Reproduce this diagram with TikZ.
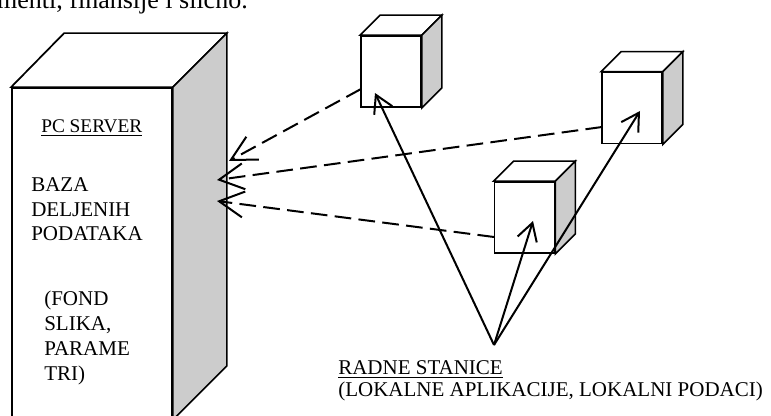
\documentclass[tikz,border=0pt]{standalone}
\usepackage{fontspec}
\setmainfont{Liberation Serif}
\usetikzlibrary{arrows.meta,calc}
\definecolor{sidegray}{RGB}{204,204,204}
\tikzset{
  face/.style={draw=black, line width=1.3pt, line join=miter},
  frontbox/.style={face, fill=white, inner sep=0pt, minimum width=45pt, minimum height=53.25pt},
  dasharrow/.style={line width=1.5pt, dash pattern=on 12.5pt off 5.5pt, -{Straight Barb[length=18.5pt,width=19.5pt]}},
  solidarrow/.style={line width=1.5pt, -{Straight Barb[length=13pt,width=15pt]}},
  maintext/.style={font=\fontsize{15.75}{18.5}\selectfont, inner sep=0pt, align=left},
}
\newcommand\cubefaces[1]{%
  \draw[face, fill=white] (#1.north west) -- ++(20,-20) -- ($(#1.north east)+(20,-20)$) -- (#1.north east) -- cycle;
  \draw[face, fill=sidegray] (#1.north east) -- ++(20,-20) -- ($(#1.south east)+(20,-20)$) -- (#1.south east) -- cycle;
}
\begin{document}
\begin{tikzpicture}[x=0.75pt, y=-0.75pt]
\useasboundingbox (0,0) rectangle (771,416);
\clip (0,0) rectangle (771,416);

% cut-off text line at the top
\node[anchor=base east, inner sep=0pt, font=\fontsize{19.5}{23}\selectfont] (prev) at (248,9) {menti, finansije i slično.};

% server tower
\node[face, fill=white, inner sep=0pt, minimum width=120pt, minimum height=248.25pt] (srv) at (92,253.5) {};
\draw[face, fill=white] (srv.north west) -- ++(53,-54) -- ($(srv.north east)+(54,-54)$) -- (srv.north east) -- cycle;
\draw[face, fill=sidegray] (srv.north east) -- ++(54,-54) -- ($(srv.south east)+(54,-54)$) -- (srv.south east) -- cycle;

\node[anchor=base west, inner sep=0pt, font=\fontsize{14.5}{17}\selectfont] (pcs) at (41,133) {\underline{PC SERVER}};
\node[maintext, anchor=base west] (baza) at (31,241) {BAZA\\DELJENIH\\PODATAKA};
\node[maintext, anchor=base west, font=\fontsize{15.75}{18.75}\selectfont] (fond) at (44,380.5) {(FOND\\SLIKA,\\PARAME\\TRI)};

% workstations
\node[frontbox] (c1) at (391,71.5) {};
\cubefaces{c1}
\node[frontbox] (c2) at (632,108) {};
\cubefaces{c2}
\node[frontbox] (c3) at (524.5,217.5) {};
\cubefaces{c3}

% label
\node[maintext, anchor=base west, font=\fontsize{15.75}{16.5}\selectfont] (rs) at (338,397) {\underline{RADNE STANICE}\\(LOKALNE APLIKACIJE, LOKALNI PODACI)};

% named end points
\coordinate (s1) at (361,89);
\coordinate (s2) at (602,127);
\coordinate (s3) at (494,237);
\coordinate (h1) at (229,161);
\coordinate (h2) at (217,180);
\coordinate (h3) at (217,201);
\coordinate (apex) at (494,345);
\coordinate (t1) at (375,93);
\coordinate (t2) at (640,111);
\coordinate (t3) at (533,221);

% dashed arrows to server
\draw[dasharrow] (s1) -- (h1);
\draw[dasharrow] (s2) -- (h2);
\draw[dasharrow] (s3) -- (h3);

% solid arrows to workstations
\draw[solidarrow] (apex) -- (t1);
\draw[solidarrow] (apex) -- (t2);
\draw[solidarrow] (apex) -- (t3);
\end{tikzpicture}
\end{document}
